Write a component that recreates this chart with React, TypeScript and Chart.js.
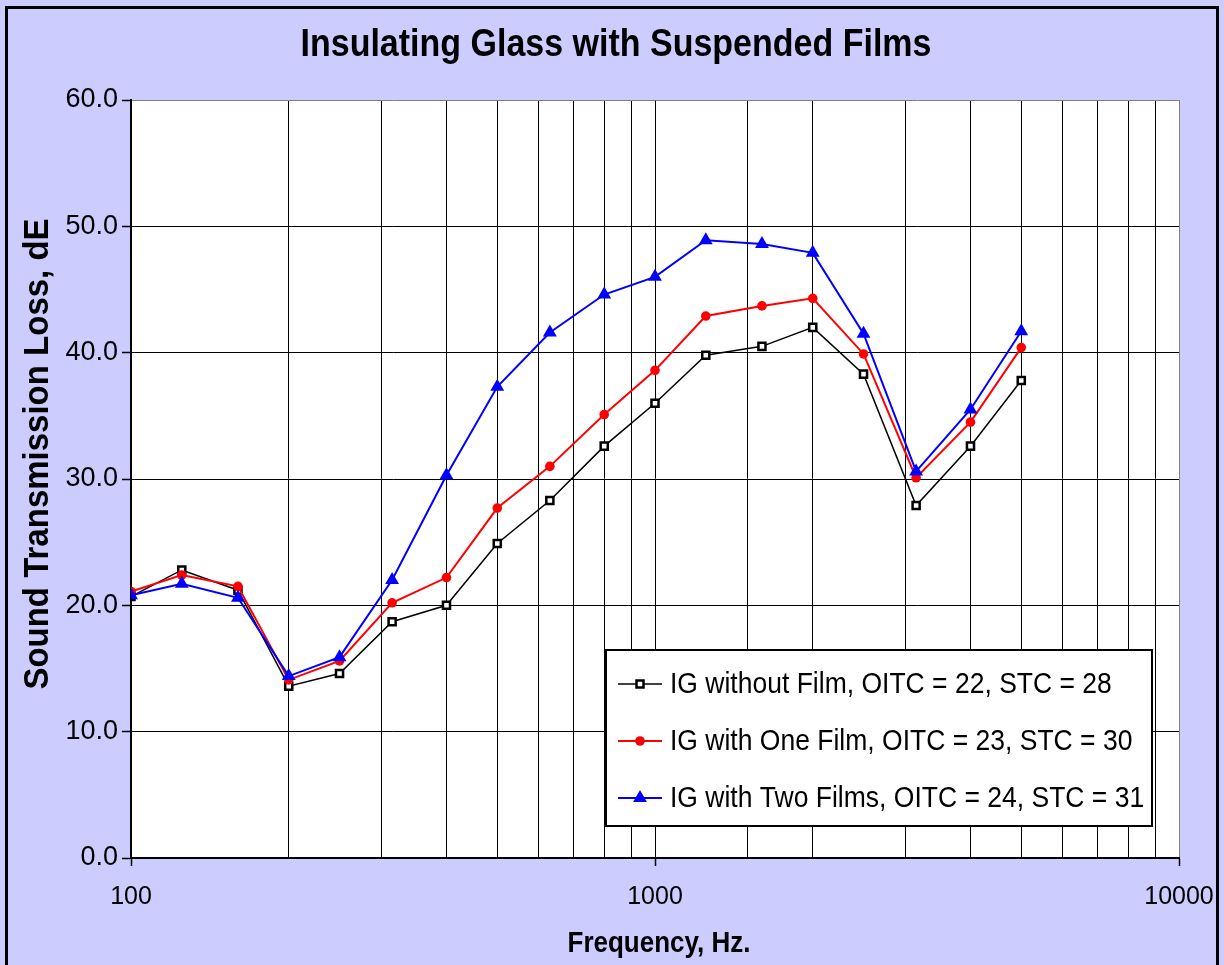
import React, { useEffect, useRef } from 'react';
import { Chart, registerables } from 'chart.js';

Chart.register(...registerables);

const frequencies = [100, 125, 160, 200, 250, 315, 400, 500, 630, 800, 1000, 1250, 1600, 2000, 2500, 3150, 4000, 5000];
const noFilm = [20.7, 22.8, 21.2, 13.6, 14.6, 18.7, 20.0, 24.9, 28.3, 32.6, 36.0, 39.8, 40.5, 42.0, 38.3, 27.9, 32.6, 37.8];
const oneFilm = [21.1, 22.4, 21.5, 14.1, 15.6, 20.2, 22.2, 27.7, 31.0, 35.1, 38.6, 42.9, 43.7, 44.3, 39.9, 30.1, 34.5, 40.4];
const twoFilms = [20.8, 21.7, 20.6, 14.4, 15.9, 22.0, 30.3, 37.3, 41.6, 44.6, 46.0, 48.9, 48.6, 47.9, 41.5, 30.6, 35.5, 41.7];
const seriesLabels = [
  'IG without Film, OITC = 22, STC = 28',
  'IG with One Film, OITC = 23, STC = 30',
  'IG with Two Films, OITC = 24, STC = 31',
];
const xLabeledTicks = [100, 1000, 10000];
const chartTitle = 'Insulating Glass with Suspended Films';
const xTitle = 'Frequency, Hz.';
const yTitle = 'Sound Transmission Loss, dE';

const FONT = '"Liberation Sans", Arial, Helvetica, sans-serif';

function drawMarker(ctx: CanvasRenderingContext2D, kind: string, x: number, y: number) {
  ctx.save();
  if (kind === 'rect') {
    ctx.fillStyle = '#fff';
    ctx.strokeStyle = '#000';
    ctx.lineWidth = 2.5;
    ctx.fillRect(x - 3.5, y - 3.5, 7, 7);
    ctx.strokeRect(x - 3.5, y - 3.5, 7, 7);
  } else if (kind === 'circle') {
    ctx.fillStyle = '#ff0000';
    ctx.beginPath();
    ctx.arc(x, y, 4.8, 0, Math.PI * 2);
    ctx.fill();
  } else {
    const r = 8;
    ctx.fillStyle = '#0000ff';
    ctx.beginPath();
    ctx.moveTo(x, y - r);
    ctx.lineTo(x + r * Math.sin((2 * Math.PI) / 3), y - r * Math.cos((2 * Math.PI) / 3));
    ctx.lineTo(x + r * Math.sin((4 * Math.PI) / 3), y - r * Math.cos((4 * Math.PI) / 3));
    ctx.closePath();
    ctx.fill();
  }
  ctx.restore();
}

function stretchedText(ctx: CanvasRenderingContext2D, text: string, x: number, y: number, sy: number) {
  ctx.save();
  ctx.translate(x, y);
  ctx.scale(1, sy);
  ctx.fillText(text, 0, 0);
  ctx.restore();
}

const decorPlugin = {
  id: 'decor',
  beforeDraw(chart: any) {
    const { ctx, width, height, chartArea } = chart;
    ctx.save();
    ctx.fillStyle = '#ccccff';
    ctx.fillRect(0, 0, width, height);
    ctx.fillStyle = '#ffffff';
    ctx.fillRect(chartArea.left, chartArea.top, chartArea.right - chartArea.left, chartArea.bottom - chartArea.top);
    ctx.strokeStyle = '#000';
    ctx.lineWidth = 3;
    ctx.strokeRect(6.5, 7.5, 1211, 1000);
    ctx.restore();
  },
  afterDraw(chart: any) {
    const { ctx, chartArea } = chart;
    ctx.save();
    // titles
    ctx.fillStyle = '#000';
    ctx.textAlign = 'center';
    ctx.textBaseline = 'middle';
    ctx.font = `bold 34px ${FONT}`;
    stretchedText(ctx, chartTitle, 616, 45, 1.15);
    ctx.font = `bold 26px ${FONT}`;
    stretchedText(ctx, xTitle, (chartArea.left + chartArea.right) / 2 + 4, 944, 1.12);
    ctx.save();
    ctx.translate(38, 454);
    ctx.rotate(-Math.PI / 2);
    ctx.font = `bold 33px ${FONT}`;
    stretchedText(ctx, yTitle, 0, 0, 1.08);
    ctx.restore();

    // legend
    const lx = 606, ly = 650, lw = 546, lh = 176;
    ctx.fillStyle = '#fff';
    ctx.fillRect(lx, ly, lw, lh);
    ctx.strokeStyle = '#000';
    ctx.lineWidth = 2;
    ctx.strokeRect(lx, ly, lw, lh);
    const kinds = ['rect', 'circle', 'triangle'];
    const colors = ['#000000', '#ff0000', '#0000ff'];
    const rows = [684, 741, 798];
    ctx.font = `26.5px ${FONT}`;
    ctx.textAlign = 'left';
    for (let i = 0; i < 3; i++) {
      const y = rows[i];
      ctx.strokeStyle = colors[i];
      ctx.lineWidth = i === 0 ? 1.5 : 2;
      ctx.beginPath();
      ctx.moveTo(618, y);
      ctx.lineTo(662, y);
      ctx.stroke();
      drawMarker(ctx, kinds[i], 640, y);
      ctx.fillStyle = '#000';
      stretchedText(ctx, seriesLabels[i], 670, y + 1, 1.12);
    }
    ctx.restore();
  },
};

export default function App() {
  const canvasRef = useRef<HTMLCanvasElement | null>(null);

  useEffect(() => {
    document.body.style.margin = '0';
    const canvas = canvasRef.current;
    if (!canvas) return;
    const chart = new Chart(canvas, {
      type: 'line',
      data: {
        datasets: [
          {
            label: seriesLabels[0],
            data: frequencies.map((f, i) => ({ x: f, y: noFilm[i] })),
            borderColor: '#000000',
            backgroundColor: '#ffffff',
            borderWidth: 1.5,
            pointStyle: 'rect',
            pointRadius: 5,
            pointBorderWidth: 2.5,
            pointBorderColor: '#000000',
            pointBackgroundColor: '#ffffff',
            tension: 0,
            order: 3,
          },
          {
            label: seriesLabels[1],
            data: frequencies.map((f, i) => ({ x: f, y: oneFilm[i] })),
            borderColor: '#ff0000',
            backgroundColor: '#ff0000',
            borderWidth: 2,
            pointStyle: 'circle',
            pointRadius: 4.8,
            pointBorderWidth: 0,
            pointBackgroundColor: '#ff0000',
            tension: 0,
            order: 2,
          },
          {
            label: seriesLabels[2],
            data: frequencies.map((f, i) => ({ x: f, y: twoFilms[i] })),
            borderColor: '#0000ff',
            backgroundColor: '#0000ff',
            borderWidth: 2,
            pointStyle: 'triangle',
            pointRadius: 8,
            pointBorderWidth: 0,
            pointBackgroundColor: '#0000ff',
            tension: 0,
            order: 1,
          },
        ],
      },
      options: {
        responsive: false,
        animation: false,
        events: [],
        layout: { padding: { left: 60, top: 100, right: 45, bottom: 40 } },
        plugins: {
          legend: { display: false },
          title: { display: false },
          tooltip: { enabled: false },
        },
        scales: {
          x: {
            type: 'logarithmic',
            min: 100,
            max: 10000,
            afterFit: (scale: any) => {
              scale.height = 67;
              scale.paddingLeft = 0;
              scale.paddingRight = 0;
            },
            border: { display: true, color: '#000', width: 2 },
            grid: {
              color: (c: any) => (c.tick && c.tick.value === 10000 ? '#808080' : '#000000'),
              lineWidth: 1,
              tickLength: 8,
              tickColor: (c: any) => (c.tick && xLabeledTicks.includes(c.tick.value) ? '#000000' : 'rgba(0,0,0,0)'),
              tickWidth: 1.5,
            },
            ticks: {
              autoSkip: false,
              maxRotation: 0,
              padding: 16,
              color: '#000',
              font: { family: FONT, size: 25 },
              callback: (v: any) => (xLabeledTicks.includes(Number(v)) ? String(v) : ''),
            },
          },
          y: {
            type: 'linear',
            min: 0,
            max: 60,
            afterFit: (scale: any) => {
              scale.width = 71;
              scale.paddingTop = 0;
              scale.paddingBottom = 0;
            },
            border: { display: true, color: '#000', width: 2 },
            grid: {
              color: (c: any) => (c.tick && c.tick.value === 60 ? '#808080' : '#000000'),
              lineWidth: 1,
              tickLength: 9,
              tickColor: '#000',
              tickWidth: 1.5,
            },
            ticks: {
              stepSize: 10,
              padding: 4,
              color: '#000',
              font: { family: FONT, size: 27 },
              callback: (v: any) => Number(v).toFixed(1),
            },
          },
        },
      },
      plugins: [decorPlugin],
    } as any);
    return () => {
      chart.destroy();
    };
  }, []);

  return (
    <div style={{ width: 1224, height: 965 }}>
      <canvas ref={canvasRef} width={1224} height={965} style={{ display: 'block', width: 1224, height: 965 }} />
    </div>
  );
}
